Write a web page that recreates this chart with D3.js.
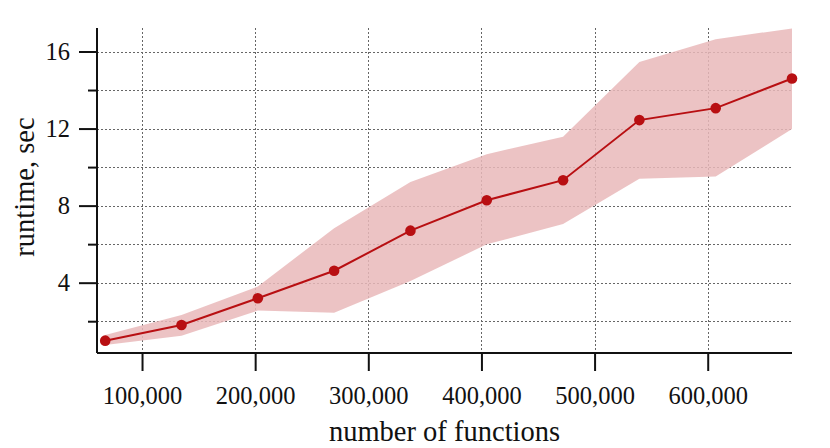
<!DOCTYPE html>
<html>
<head>
<meta charset="utf-8">
<script src="https://cdn.jsdelivr.net/npm/d3@7"></script>
<style>
  body { margin: 0; background: white; }
  text { font-family: "Liberation Serif", "Times New Roman", serif; fill: #111; }
</style>
</head>
<body>
<div id="chart"></div>
<script>
// data
const numFunctions = [67450, 134900, 202350, 269800, 337250, 404700, 472150, 539600, 607050, 674500]
const runtimeMean = [0.99, 1.80, 3.19, 4.62, 6.70, 8.28, 9.32, 12.44, 13.06, 14.60]
const runtimeUpper = [1.28, 2.32, 3.80, 6.83, 9.22, 10.67, 11.58, 15.46, 16.64, 17.20]
const runtimeLower = [0.76, 1.25, 2.55, 2.44, 4.09, 5.99, 7.05, 9.40, 9.51, 11.98]
const xTicks = [100000, 200000, 300000, 400000, 500000, 600000]
const yMajorTicks = [4, 8, 12, 16]
const yMinorTicks = [2, 6, 10, 14]

const width = 830, height = 448
const margin = { left: 97, right: 38, top: 28, bottom: 95 }

let svg = d3.select('#chart').append('svg')
    .attr('width', width).attr('height', height)

let x = d3.scaleLinear().domain([60200, 674500]).range([margin.left, width - margin.right])
let y = d3.scaleLinear().domain([0.35, 17.22]).range([height - margin.bottom, margin.top])

// grid lines, dotted
let grid = svg.append('g').attr('class', 'grid')
    .attr('stroke', '#666').attr('stroke-width', 1).attr('stroke-dasharray', '2,2')
grid.selectAll('line.gy')
    .data(yMajorTicks.concat(yMinorTicks))
    .enter().append('line')
    .attr('x1', margin.left).attr('x2', width - margin.right)
    .attr('y1', d => Math.round(y(d)) + 0.5).attr('y2', d => Math.round(y(d)) + 0.5)
grid.selectAll('line.gx')
    .data(xTicks)
    .enter().append('line')
    .attr('y1', margin.top).attr('y2', height - margin.bottom)
    .attr('x1', d => Math.round(x(d)) + 0.5).attr('x2', d => Math.round(x(d)) + 0.5)

// the band between lower and upper
let area = d3.area()
    .x((d, i) => x(numFunctions[i]))
    .y0((d, i) => y(runtimeLower[i]))
    .y1((d, i) => y(runtimeUpper[i]))
svg.append('path')
    .datum(numFunctions)
    .attr('d', area)
    .attr('fill', '#e9b9ba')
    .attr('fill-opacity', 0.85)

// mean line + dots
let line = d3.line()
    .x((d, i) => x(numFunctions[i]))
    .y((d, i) => y(runtimeMean[i]))
svg.append('path')
    .datum(numFunctions)
    .attr('d', line)
    .attr('fill', 'none')
    .attr('stroke', '#b80f12')
    .attr('stroke-width', 2)
svg.selectAll('circle.pt')
    .data(numFunctions)
    .enter().append('circle')
    .attr('class', 'pt')
    .attr('cx', d => x(d))
    .attr('cy', (d, i) => y(runtimeMean[i]))
    .attr('r', 5.3)
    .attr('fill', '#b80f12')

// axes
let xAxis = d3.axisBottom(x).tickValues(xTicks).tickSize(18).tickPadding(16)
    .tickFormat(d3.format(','))
let gx = svg.append('g')
    .attr('transform', 'translate(0,' + (height - margin.bottom) + ')')
    .call(xAxis)
let yAxis = d3.axisLeft(y).tickValues(yMajorTicks).tickSize(18).tickPadding(9)
let gy = svg.append('g')
    .attr('transform', 'translate(' + margin.left + ',0)')
    .call(yAxis)
let yMinor = d3.axisLeft(y).tickValues(yMinorTicks).tickSize(9).tickFormat('')
svg.append('g')
    .attr('transform', 'translate(' + margin.left + ',0)')
    .call(yMinor)
    .call(g => g.select('.domain').remove())

svg.selectAll('.domain').attr('stroke', '#111').attr('stroke-width', 2)
svg.selectAll('.tick line').attr('stroke', '#111').attr('stroke-width', 2)
svg.selectAll('.tick text').attr('font-size', 24.5).style('font-family', '"Liberation Serif", serif').attr('fill', '#111')
// plain spines, no end caps
gx.select('.domain').attr('d', 'M' + margin.left + ',0H' + (width - margin.right))
gy.select('.domain').attr('d', 'M0,' + margin.top + 'V' + (height - margin.bottom))

// axis titles
svg.append('text')
    .attr('x', (margin.left + width - margin.right) / 2)
    .attr('y', 441)
    .attr('text-anchor', 'middle')
    .attr('font-size', 28.5)
    .text('number of functions')
svg.append('text')
    .attr('transform', 'translate(34,' + 187 + ') rotate(-90)')
    .attr('text-anchor', 'middle')
    .attr('font-size', 28.5)
    .text('runtime, sec')
</script>
</body>
</html>
